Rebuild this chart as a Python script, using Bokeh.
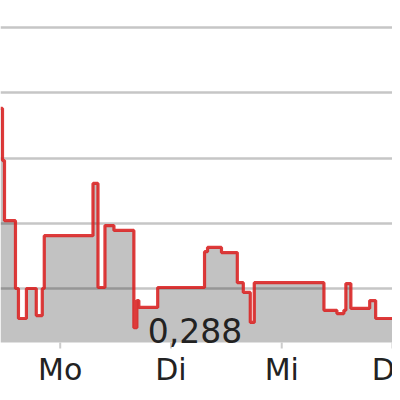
from bokeh.plotting import figure
from bokeh.models import Range1d, FixedTicker, Grid, ColumnDataSource
from bokeh.core.properties import value
from bokeh.embed import file_html
from bokeh.resources import INLINE

# time in days (1 = Mo, 2 = Di, 3 = Mi, 4 = Do), price in EUR
days = [0.461, 0.479, 0.497, 0.596, 0.623, 0.695, 0.784, 0.838, 0.856, 1.296,
        1.341, 1.404, 1.485, 1.665, 1.692, 1.710, 1.880, 2.303, 2.330, 2.456,
        2.599, 2.653, 2.716, 2.752, 3.381, 3.498, 3.561, 3.579, 3.624, 3.794,
        3.848, 4.060]
prices = [0.3552, 0.3392, 0.3208, 0.3000, 0.2908, 0.3000, 0.2917, 0.3000, 0.3162, 0.3322,
          0.3003, 0.3193, 0.3178, 0.2880, 0.2963, 0.2942, 0.3003, 0.3113, 0.3126, 0.3110,
          0.3018, 0.2988, 0.2896, 0.3018, 0.2933, 0.2923, 0.2933, 0.3015, 0.2939, 0.2963,
          0.2908, 0.2908]
tick_days = [1, 2, 3, 4]
tick_labels = ["Mo", "Di", "Mi", "Do"]
grid_levels = [0.30, 0.32, 0.34, 0.36, 0.38]

W, H = 392, 392
x_start, x_end = 0.4609, 4.0
y_start, y_end = 0.26812, 0.38828
base = 0.28345                      # bottom of the price area
px = (y_end - y_start) / H          # value per screen pixel

src = ColumnDataSource(dict(x=days, y=prices, base=[base] * len(days)))

p = figure(frame_width=W, frame_height=H, min_border=0,
           x_range=Range1d(x_start, x_end), y_range=Range1d(y_start, y_end),
           x_axis_location=None, y_axis_location=None,
           output_backend="svg", toolbar_location=None)
p.outline_line_color = None
p.background_fill_color = "white"
p.border_fill_color = "white"

p.center = [r for r in p.center if not isinstance(r, Grid)]
p.add_layout(Grid(dimension=1, ticker=FixedTicker(ticks=grid_levels),
                  grid_line_color="#c6c6c6", grid_line_width=2.5), "center")

p.varea_step(x="x", y1="base", y2="y", step_mode="after", source=src,
             fill_color="black", fill_alpha=0.24)
p.step(x="x", y="y", mode="after", source=src, line_color="#d92020",
       line_width=3.2, line_alpha=0.88)

# x axis: tick marks and day labels
p.segment(x0=tick_days, y0=[base] * 4, x1=tick_days, y1=[base - 6 * px] * 4,
          line_color="#cccccc", line_width=2)
p.text(x=tick_days, y=[base] * 4, text=tick_labels, y_offset=10,
       text_font=value("DejaVu Sans"), text_font_size="30px", text_color="#222222",
       text_baseline="top", text_align="center")

i_min = prices.index(min(prices))
min_text = f"{prices[i_min]:.3f}".replace(".", ",")
p.text(x=[days[i_min]], y=[prices[i_min]], text=[min_text], x_offset=14, y_offset=3,
       text_font=value("DejaVu Sans"), text_font_size="33px", text_color="#222222",
       text_baseline="middle", text_align="left")

open("out.html", "w").write(file_html(p, INLINE))
